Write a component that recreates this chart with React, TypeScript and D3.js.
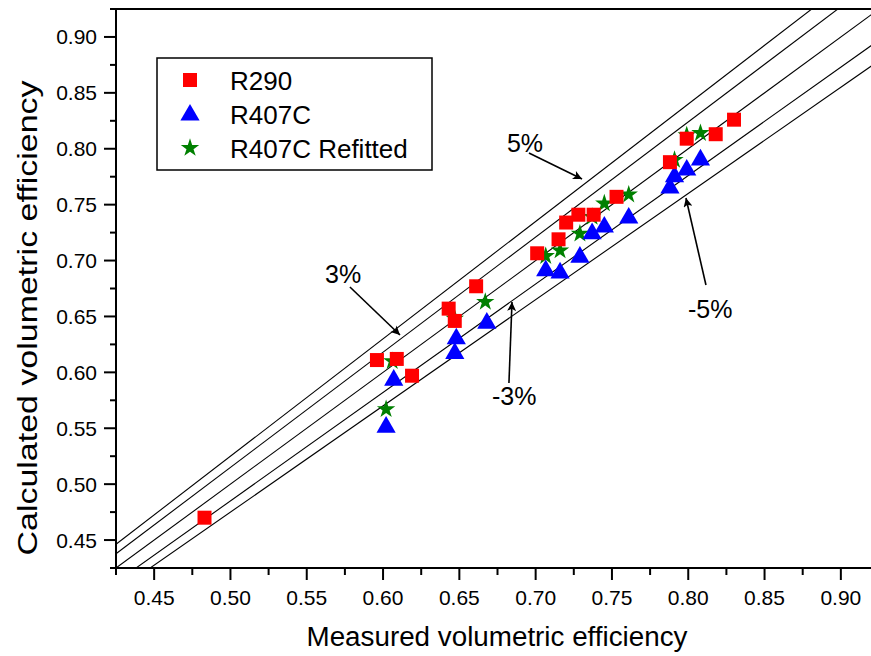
import React from "react";
import * as d3 from "d3";

const W = 871;
const H = 656;

const r290X = [0.483, 0.596, 0.609, 0.619, 0.643, 0.647, 0.661, 0.701, 0.715, 0.720, 0.728, 0.738, 0.753, 0.788, 0.799, 0.818, 0.830];
const r290Y = [0.470, 0.611, 0.612, 0.597, 0.657, 0.646, 0.677, 0.7065, 0.719, 0.734, 0.741, 0.741, 0.757, 0.788, 0.809, 0.813, 0.826];

const r407X = [0.602, 0.607, 0.647, 0.648, 0.668, 0.7066, 0.716, 0.729, 0.737, 0.745, 0.761, 0.788, 0.791, 0.799, 0.808];
const r407Y = [0.551, 0.593, 0.617, 0.630, 0.644, 0.691, 0.689, 0.703, 0.724, 0.730, 0.738, 0.765, 0.775, 0.781, 0.790];

const refitX = [0.602, 0.606, 0.647, 0.667, 0.7066, 0.716, 0.729, 0.737, 0.745, 0.761, 0.791, 0.799, 0.808];
const refitY = [0.567, 0.610, 0.648, 0.663, 0.704, 0.709, 0.724, 0.739, 0.751, 0.759, 0.790, 0.812, 0.814];

const seriesNames = ["R290", "R407C", "R407C Refitted"];
const seriesColors = ["#ff0000", "#0000ff", "#008000"];

const majorTicks = [0.45, 0.5, 0.55, 0.6, 0.65, 0.7, 0.75, 0.8, 0.85, 0.9];
const minorTicks = [0.425, 0.475, 0.525, 0.575, 0.625, 0.675, 0.725, 0.775, 0.825, 0.875, 0.925];

const deviations = [0.05, 0.03, 0, -0.03, -0.05];

// annotations in data units: label, text x, text y, arrow from (x,y) to (x,y)
const annLabels = ["5%", "3%", "-3%", "-5%"];
const annTextX = [0.6812, 0.562, 0.6714, 0.7998];
const annTextY = [0.7971, 0.680, 0.5708, 0.6486];
const annFromX = [0.6956, 0.5783, 0.6825, 0.8116];
const annFromY = [0.7962, 0.6763, 0.5905, 0.6781];
const annToX = [0.7304, 0.6111, 0.6845, 0.7985];
const annToY = [0.7729, 0.6334, 0.6629, 0.7559];

const FONT = "'Liberation Sans', Arial, Helvetica, sans-serif";

export default function App() {
  const left = 116;
  const bottom = 568;
  const top = 9;
  const x = d3.scaleLinear().domain([0.425, 0.92]).range([left, left + 0.495 * 1526]);
  const y = d3.scaleLinear().domain([0.425, 0.925]).range([bottom, top]);
  const right = x(0.92);

  const sq = d3.symbol().type(d3.symbolSquare).size(196)()!;
  const tri = d3.symbol().type(d3.symbolTriangle).size(160)()!;
  const star = d3.symbol().type(d3.symbolStar).size(105)()!;
  const shapes = [sq, tri, star];

  const series = [
    { xs: r290X, ys: r290Y },
    { xs: r407X, ys: r407Y },
    { xs: refitX, ys: refitY },
  ];
  const drawOrder = [2, 1, 0];

  const line = d3
    .line<number>()
    .x((d) => x(d))
    .y((d) => y(d));

  const lineDomain = [0.3, 0.95];

  return (
    <svg
      width={W}
      height={H}
      style={{ position: "absolute", left: 0, top: 0, background: "#fff" }}
      fontFamily={FONT}
    >
      <defs>
        <clipPath id="plot">
          <rect x={left} y={top} width={right - left} height={bottom - top} />
        </clipPath>
        <marker
          id="arrow"
          viewBox="0 0 10 10"
          refX="10"
          refY="5"
          markerWidth="12"
          markerHeight="9"
          markerUnits="userSpaceOnUse"
          orient="auto"
        >
          <path d="M0,0 L10,5 L0,10 L2.5,5 Z" fill="#000" />
        </marker>
      </defs>

      {/* deviation lines */}
      <g clipPath="url(#plot)">
        {deviations.map((p, i) => (
          <path
            key={i}
            d={line.y((d) => y(d * (1 + p)))(lineDomain) || ""}
            fill="none"
            stroke="#000"
            strokeWidth={1.1}
          />
        ))}
      </g>

      {/* data */}
      <g clipPath="url(#plot)">
        {drawOrder.map((si) =>
          series[si].xs.map((xv, i) => (
            <path
              key={`${si}-${i}`}
              d={shapes[si]}
              transform={`translate(${x(xv)},${y(series[si].ys[i])})`}
              fill={seriesColors[si]}
            />
          ))
        )}
      </g>

      {/* axes frame */}
      <line x1={left} x2={left} y1={top} y2={bottom + 1} stroke="#000" strokeWidth={2} />
      <line x1={left - 1} x2={right + 2} y1={bottom} y2={bottom} stroke="#000" strokeWidth={2} />
      <line x1={left - 1} x2={right + 2} y1={top} y2={top} stroke="#000" strokeWidth={2} />

      {/* x ticks */}
      {majorTicks.map((t) => (
        <g key={`xm${t}`}>
          <line x1={x(t)} x2={x(t)} y1={bottom} y2={bottom + 12} stroke="#000" strokeWidth={2} />
          <text x={x(t)} y={605} fontSize={21} textAnchor="middle" fill="#000">
            {t.toFixed(2)}
          </text>
        </g>
      ))}
      {minorTicks.map((t) => (
        <line key={`xn${t}`} x1={x(t)} x2={x(t)} y1={bottom} y2={bottom + 7} stroke="#000" strokeWidth={2} />
      ))}

      {/* y ticks */}
      {majorTicks.map((t) => (
        <g key={`ym${t}`}>
          <line x1={left} x2={left - 12} y1={y(t)} y2={y(t)} stroke="#000" strokeWidth={2} />
          <text x={97} y={y(t) + 7.5} fontSize={21} textAnchor="end" fill="#000">
            {t.toFixed(2)}
          </text>
        </g>
      ))}
      {minorTicks.map((t) => (
        <line key={`yn${t}`} x1={left} x2={left - 6} y1={y(t)} y2={y(t)} stroke="#000" strokeWidth={2} />
      ))}

      {/* axis titles */}
      <text x={497} y={646} fontSize={27} textAnchor="middle" fill="#000" textLength={381} lengthAdjust="spacingAndGlyphs">
        Measured volumetric efficiency
      </text>
      <text
        transform={`translate(37,318) rotate(-90)`}
        fontSize={27}
        textAnchor="middle"
        fill="#000"
        textLength={475}
        lengthAdjust="spacingAndGlyphs"
      >
        Calculated volumetric efficiency
      </text>

      {/* annotations */}
      {annLabels.map((lab, i) => (
        <g key={lab}>
          <text x={x(annTextX[i])} y={y(annTextY[i])} fontSize={25} fill="#000">
            {lab}
          </text>
          <line
            x1={x(annFromX[i])}
            y1={y(annFromY[i])}
            x2={x(annToX[i])}
            y2={y(annToY[i])}
            stroke="#000"
            strokeWidth={1.6}
            markerEnd="url(#arrow)"
          />
        </g>
      ))}

      {/* legend */}
      <rect x={157} y={58} width={275} height={112} fill="#fff" stroke="#000" strokeWidth={1.5} />
      {seriesNames.map((name, i) => (
        <g key={name} transform={`translate(0,${i * 34})`}>
          <path d={shapes[i]} transform={`translate(190,${i === 1 ? 81 : 80})`} fill={seriesColors[i]} />
          <text x={230} y={89.5} fontSize={26} fill="#000">
            {name}
          </text>
        </g>
      ))}
    </svg>
  );
}
